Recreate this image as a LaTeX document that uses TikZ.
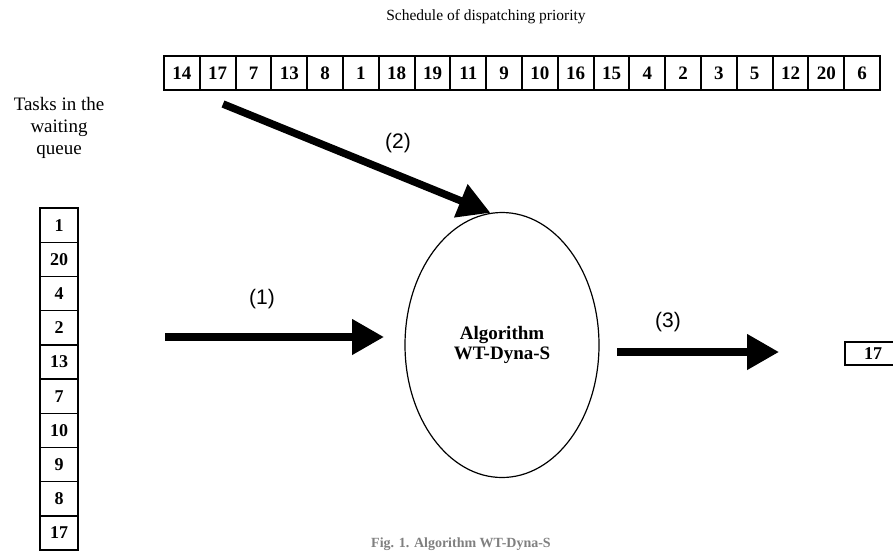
\documentclass[tikz,border=0pt]{standalone}
\usepackage{fontspec}
\setmainfont{Liberation Serif}
\newfontfamily\labelfont{Liberation Sans}
\usetikzlibrary{shapes.geometric,arrows.meta}

\begin{document}
\begin{tikzpicture}[x=1pt,y=-1pt,
    cell/.style={draw,line width=2pt,minimum width=35.8pt,minimum height=34pt,inner sep=0pt,font=\fontsize{19}{20}\selectfont\bfseries},
    qcell/.style={draw,line width=1.5pt,minimum width=38pt,minimum height=34.2pt,inner sep=0pt,font=\fontsize{18}{20}\selectfont\bfseries},
    bigarrow/.style={line width=7.5pt,-{Triangle[length=32pt,width=34pt]}},
    tag/.style={font=\labelfont\fontsize{21}{24}\selectfont}]
  \useasboundingbox (0,0) rectangle (893,552);
  \node[font=\fontsize{15.5}{18}\selectfont] (title) at (486,17) {Schedule of dispatching priority};
  % priority row
  \foreach \n [count=\i] in {14,17,7,13,8,1,18,19,11,9,10,16,15,4,2,3,5,12,20,6}
    \node[cell] (p\i) at (146.1+35.8*\i,73) {\n};
  % waiting queue
  \node[align=center,font=\fontsize{19}{22}\selectfont] (tasks) at (59,128) {Tasks in the\\waiting\\queue};
  \foreach \n [count=\i] in {1,20,4,2,13,7,10,9,8,17}
    \node[qcell] (q\i) at (59,191+34.2*\i) {\n};
  % algorithm
  \node[draw,ellipse,line width=1.2pt,minimum width=194pt,minimum height=265pt,inner sep=0pt,align=center,
    font=\fontsize{19}{20}\selectfont\bfseries] (alg) at (502,345) {Algorithm\\WT-Dyna-S};
  \node[draw,line width=1.5pt,minimum width=56pt,minimum height=23pt,inner sep=0pt,
    font=\fontsize{18}{20}\selectfont\bfseries] (out) at (873,353.5) {17};
  % arrows
  \coordinate (s1) at (165,337);
  \coordinate (e1) at (384,337);
  \coordinate (s2) at (223,104);
  \coordinate (s3) at (617,352);
  \coordinate (e3) at (779,352);
  \draw[bigarrow] (s1) -- (e1);
  \draw[bigarrow] (s2) -- (alg.95);
  \draw[bigarrow] (s3) -- (e3);
  \node[tag] (l1) at (262,299) {(1)};
  \node[tag] (l2) at (398,143) {(2)};
  \node[tag] (l3) at (668,322) {(3)};
  % caption
  \node[text=gray,font=\fontsize{14}{16}\selectfont\bfseries] (cap) at (461,544) {Fig. 1. Algorithm WT-Dyna-S};
\end{tikzpicture}
\end{document}
